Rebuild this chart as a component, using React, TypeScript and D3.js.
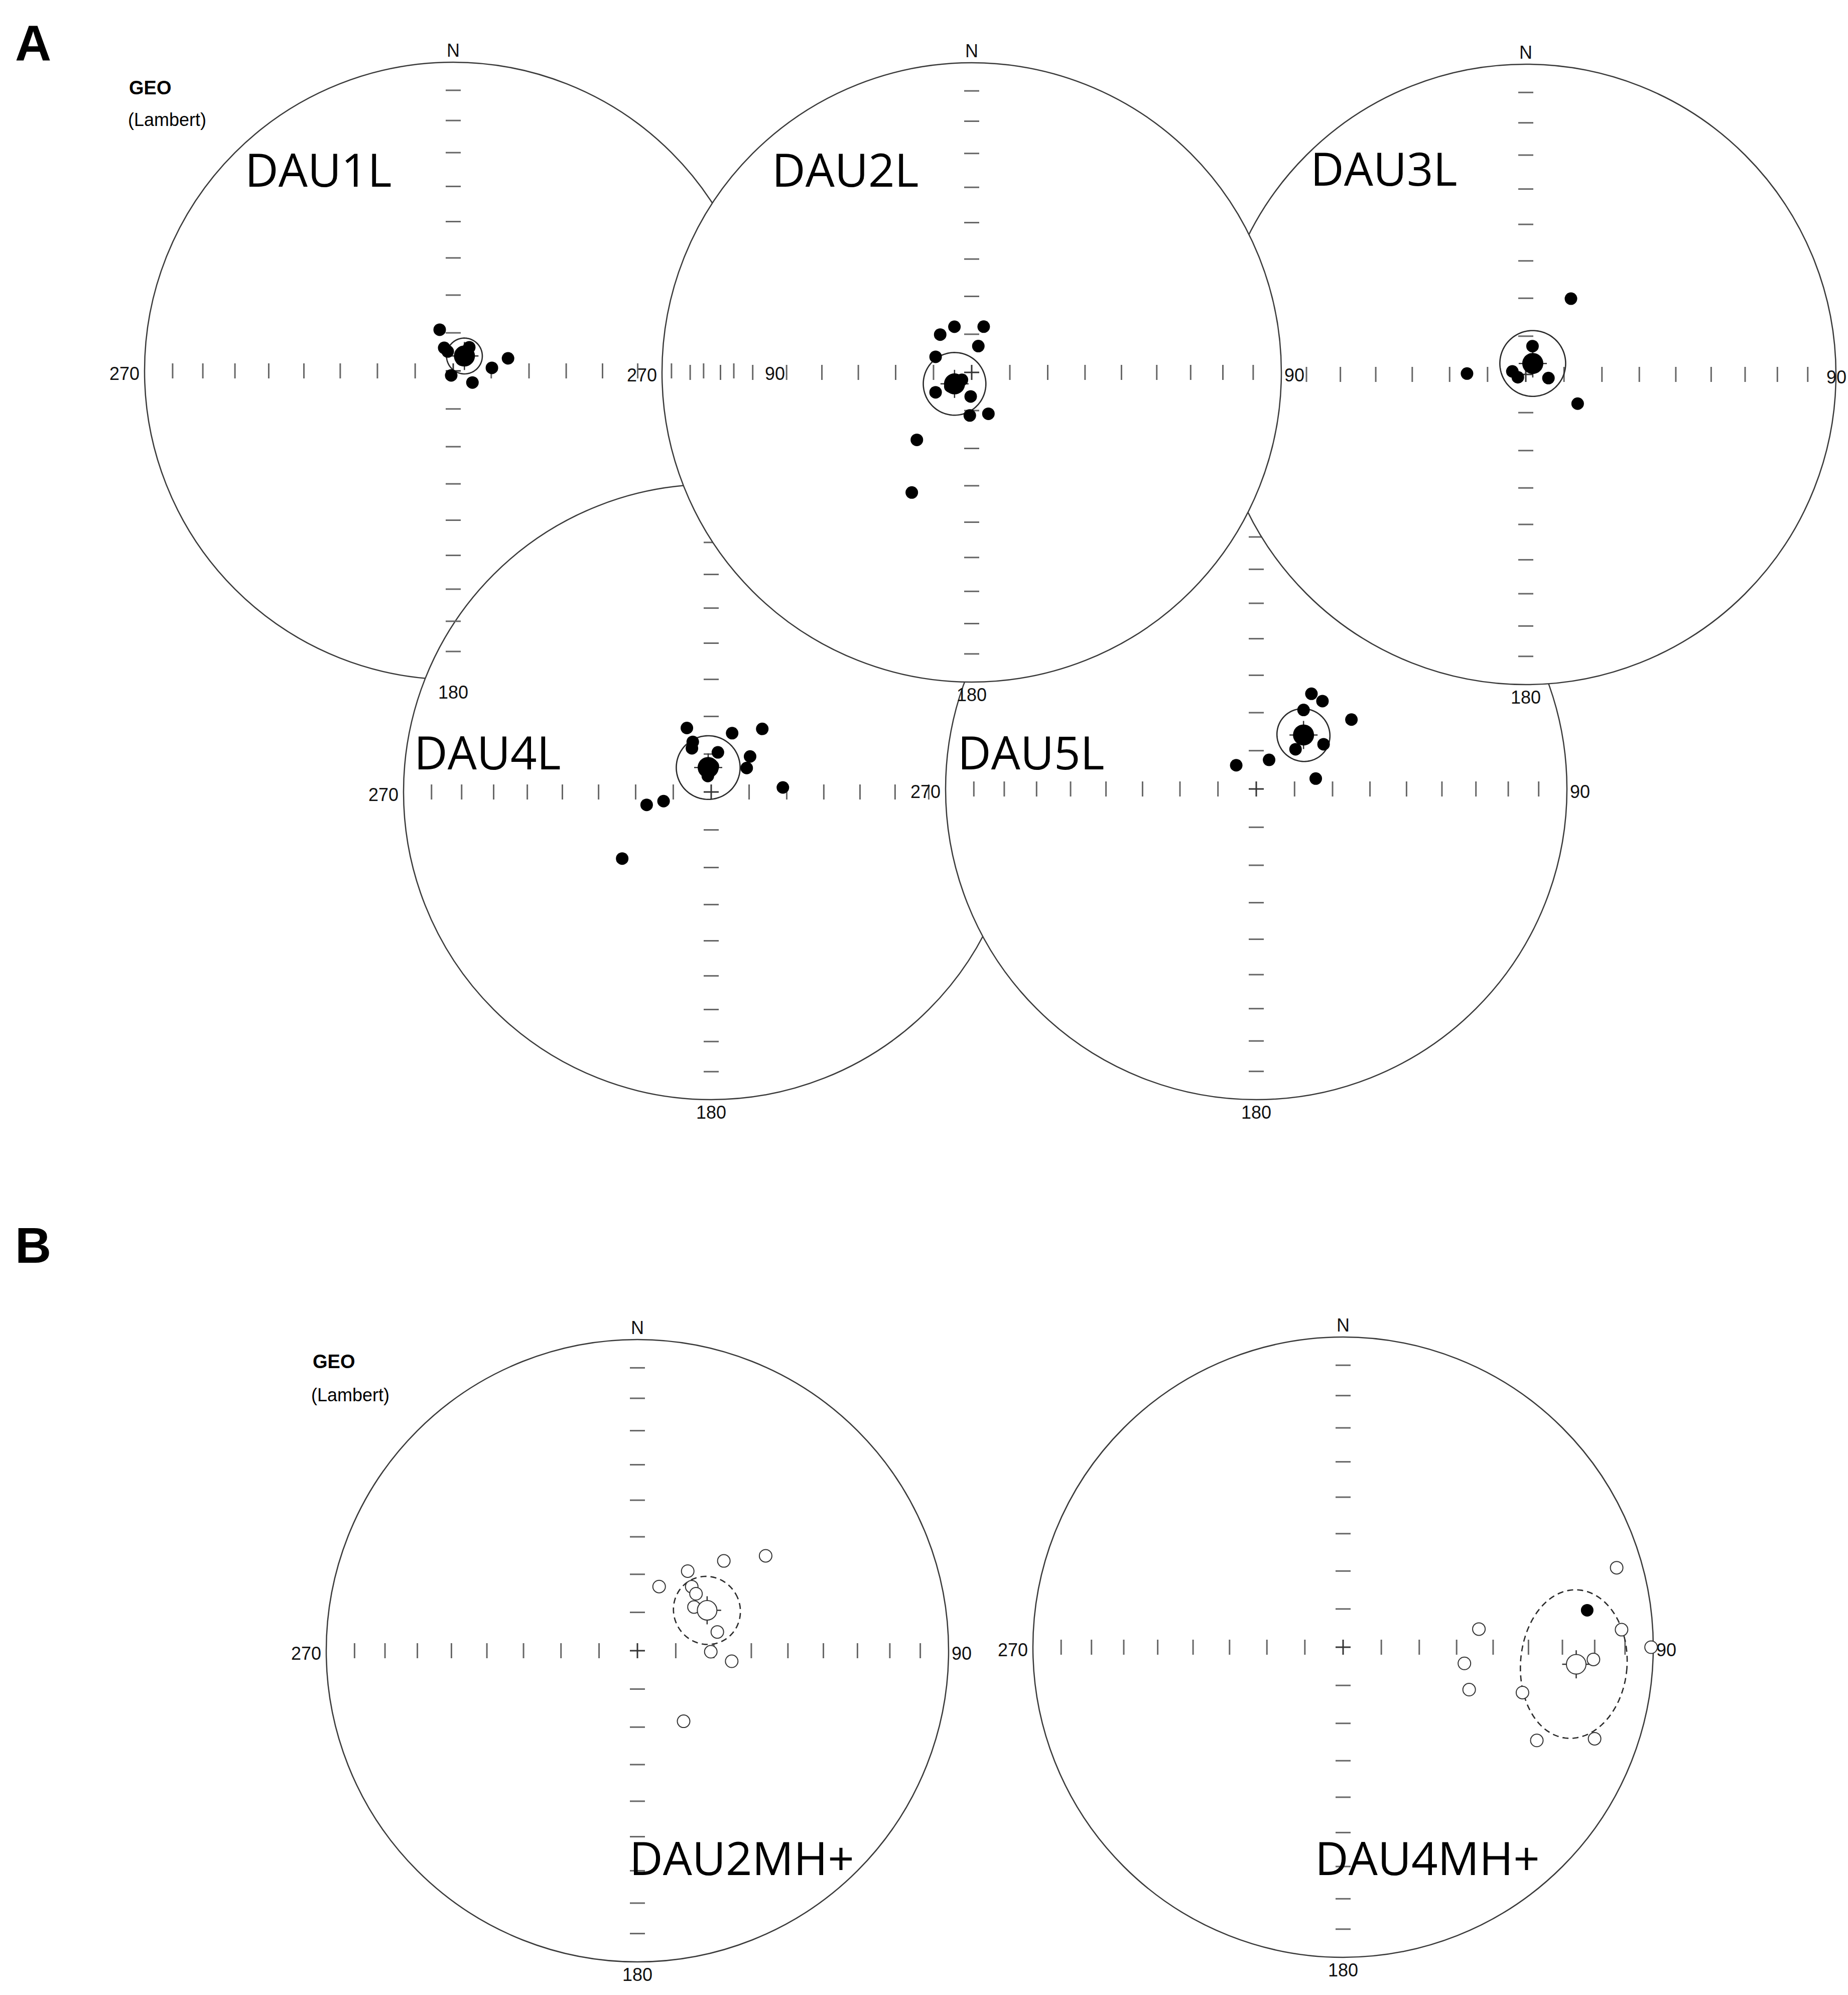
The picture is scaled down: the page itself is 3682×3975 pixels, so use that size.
import * as d3 from "d3";
import React, { useEffect, useRef } from "react";

// [declination, inclination]; negative inclination = upper hemisphere (open symbol)
type Dir = [number, number];
type Mean = { dec: number; inc: number; a95: number };

const INC_TICKS = [10, 20, 30, 40, 50, 60, 70, 80];
const AXIS_DECS = [0, 90, 180, 270];

const DAU1L_DIRS: Dir[] = [
  [341.8, 78.6], [338.6, 83.5], [344.2, 84.7], [204.0, 88.7], [121.2, 84.1],
  [85.5, 79.8], [77.1, 75.2], [34.2, 82.5], [37.7, 86.3],
];
const DAU1L_MEAN: Mean = { dec: 36.9, inc: 85.1, a95: 4.7 };

const DAU2L_DIRS: Dir[] = [
  [320.2, 77.1], [339.3, 77.2], [14.7, 77.6], [14.2, 82.9], [293.4, 79.7],
  [241.1, 79.2], [182.4, 83.7], [182.5, 78.7], [158.0, 78.3], [219.1, 67.1],
  [206.5, 54.3], [232.7, 86.8], [236.7, 83.3],
];
const DAU2L_MEAN: Mean = { dec: 236.2, inc: 84.6, a95: 8.2 };

const DAU3L_DIRS: Dir[] = [
  [30.8, 66.8], [270.8, 74.6], [13.4, 82.4], [282.7, 86.4], [250.4, 87.8],
  [99.2, 84.0], [119.4, 74.4],
];
const DAU3L_MEAN: Mean = { dec: 32.5, inc: 86.6, a95: 8.6 };

const DAU4L_DIRS: Dir[] = [
  [339.2, 71.9], [339.8, 75.9], [336.2, 77.4], [19.6, 73.5], [39.0, 68.5],
  [9.6, 79.4], [47.6, 76.1], [56.0, 78.7], [86.4, 71.0], [259.1, 77.2],
  [258.7, 72.6], [233.2, 60.4], [345.6, 82.9], [3.7, 83.2], [348.1, 85.7],
];
const DAU4L_MEAN: Mean = { dec: 353.0, inc: 83.5, a95: 8.4 };

const DAU5L_DIRS: Dir[] = [
  [30.1, 61.0], [37.0, 61.0], [30.9, 65.8], [53.9, 58.9], [56.4, 68.8],
  [44.7, 75.4], [23.8, 81.7], [319.8, 81.9], [80.1, 74.2],
];
const DAU5L_MEAN: Mean = { dec: 41.2, inc: 71.2, a95: 6.9 };

const DAU2MH_DIRS: Dir[] = [
  [32.3, -65.3], [43.9, -57.1], [53.5, -47.5], [18.7, -72.3], [40.3, -68.0],
  [45.8, -68.6], [52.3, -71.3], [76.8, -68.5], [90.8, -70.8], [96.4, -65.1],
  [146.8, -67.9],
];
const DAU2MH_MEAN: Mean = { dec: 59.9, inc: -68.9, a95: 8.8 };

const DAU4MH_DIRS: Dir[] = [
  [73.8, -9.0], [81.4, 21.5], [82.4, -53.6], [86.4, -11.0], [90.0, -0.8],
  [97.6, -57.6], [92.8, -20.3], [108.6, -54.7], [104.2, -40.1], [115.7, -31.3],
  [110.0, -14.8],
];
const DAU4MH_MEAN: Mean = { dec: 94.2, inc: -25.6, a95: 16.5 };

// layout of each stereonet
type Plot = {
  name: string; dirs: Dir[]; mean: Mean;
  cx: number; cy: number; r: number; tx: number; ty: number;
};

const P1: Plot = { name: "DAU1L", dirs: DAU1L_DIRS, mean: DAU1L_MEAN, cx: 903, cy: 739, r: 615, tx: 488, ty: 372 };
const P2: Plot = { name: "DAU2L", dirs: DAU2L_DIRS, mean: DAU2L_MEAN, cx: 1936, cy: 742, r: 617, tx: 1538, ty: 372 };
const P3: Plot = { name: "DAU3L", dirs: DAU3L_DIRS, mean: DAU3L_MEAN, cx: 3040, cy: 746, r: 618, tx: 2611, ty: 370 };
const P4: Plot = { name: "DAU4L", dirs: DAU4L_DIRS, mean: DAU4L_MEAN, cx: 1417, cy: 1578, r: 613, tx: 825, ty: 1533 };
const P5: Plot = { name: "DAU5L", dirs: DAU5L_DIRS, mean: DAU5L_MEAN, cx: 2503, cy: 1572, r: 619, tx: 1908, ty: 1533 };
const P6: Plot = { name: "DAU2MH+", dirs: DAU2MH_DIRS, mean: DAU2MH_MEAN, cx: 1270, cy: 3289, r: 620, tx: 1254, ty: 3736 };
const P7: Plot = { name: "DAU4MH+", dirs: DAU4MH_DIRS, mean: DAU4MH_MEAN, cx: 2676, cy: 3282, r: 618, tx: 2620, ty: 3736 };

const WIDTH = 3682;
const HEIGHT = 3975;
const FONT = '"Liberation Sans", Arial, sans-serif';
const rad = Math.PI / 180;

type G = d3.Selection<SVGGElement, unknown, null, undefined>;

const projector = (p: Plot) => {
  // Lambert equal-area: radius ~ sqrt(1 - sin|I|)
  const rScale = d3.scaleSqrt().domain([0, 1]).range([0, p.r]);
  return (dec: number, inc: number): [number, number] => {
    const rr = rScale(1 - Math.sin(Math.abs(inc) * rad));
    return [p.cx + rr * Math.sin(dec * rad), p.cy - rr * Math.cos(dec * rad)];
  };
};

// directions on a small circle of radius a95 about the mean
const smallCircle = (m: Mean): Dir[] => {
  const I = Math.abs(m.inc) * rad;
  const D = m.dec * rad;
  const a = m.a95 * rad;
  const mv = [Math.cos(I) * Math.cos(D), Math.cos(I) * Math.sin(D), Math.sin(I)];
  const u = [Math.sin(I) * Math.cos(D), Math.sin(I) * Math.sin(D), -Math.cos(I)];
  const v = [-Math.sin(D), Math.cos(D), 0];
  return d3.range(0, 360, 3).map((t) => {
    const c = Math.cos(t * rad);
    const s = Math.sin(t * rad);
    const q = mv.map((mi, i) => Math.cos(a) * mi + Math.sin(a) * (c * u[i] + s * v[i]));
    return [Math.atan2(q[1], q[0]) / rad, Math.asin(q[2]) / rad] as Dir;
  });
};

const drawDisk = (g: G, p: Plot) => {
  g.append("circle")
    .attr("cx", p.cx).attr("cy", p.cy).attr("r", p.r)
    .attr("fill", "#fff").attr("stroke", "#3a3a3a").attr("stroke-width", 2.5);
};

const drawFrame = (g: G, p: Plot) => {
  const proj = projector(p);
  const ticks = g.append("g").attr("stroke", "#666").attr("stroke-width", 3);
  AXIS_DECS.forEach((dec) => {
    INC_TICKS.forEach((inc) => {
      const [x, y] = proj(dec, inc);
      const vertical = dec === 90 || dec === 270;
      ticks.append("line")
        .attr("x1", vertical ? x : x - 15).attr("x2", vertical ? x : x + 15)
        .attr("y1", vertical ? y - 15 : y).attr("y2", vertical ? y + 15 : y);
    });
  });
  const cross = g.append("g").attr("stroke", "#333").attr("stroke-width", 3);
  cross.append("line").attr("x1", p.cx - 15).attr("x2", p.cx + 15).attr("y1", p.cy).attr("y2", p.cy);
  cross.append("line").attr("x1", p.cx).attr("x2", p.cx).attr("y1", p.cy - 15).attr("y2", p.cy + 15);

  const lab = g.append("g").attr("font-family", FONT).attr("font-size", 36).attr("fill", "#111");
  lab.append("text").attr("x", p.cx).attr("y", p.cy - p.r - 11).attr("text-anchor", "middle").text("N");
  // keep the east label inside the page
  const eastNatural = p.cx + p.r + 6;
  const overflow = eastNatural + 44 > WIDTH;
  lab.append("text")
    .attr("x", overflow ? WIDTH - 3 : eastNatural).attr("y", p.cy + 18)
    .attr("text-anchor", overflow ? "end" : "start").text("90");
  lab.append("text").attr("x", p.cx).attr("y", p.cy + p.r + 38).attr("text-anchor", "middle").text("180");
  lab.append("text").attr("x", p.cx - p.r - 10).attr("y", p.cy + 18).attr("text-anchor", "end").text("270");
};

const drawData = (g: G, p: Plot) => {
  const proj = projector(p);
  const m = p.mean;
  const line = d3.line<Dir>()
    .x((d) => proj(d[0], d[1])[0])
    .y((d) => proj(d[0], d[1])[1])
    .curve(d3.curveLinearClosed);
  g.append("path")
    .attr("d", line(smallCircle(m)))
    .attr("fill", "none").attr("stroke", "#2a2a2a").attr("stroke-width", 2.6)
    .attr("stroke-dasharray", m.inc < 0 ? "12 8" : null);

  const [mx, my] = proj(m.dec, m.inc);
  const mc = g.append("g").attr("stroke", "#333").attr("stroke-width", 2.5);
  mc.append("line").attr("x1", mx - 28).attr("x2", mx + 28).attr("y1", my).attr("y2", my);
  mc.append("line").attr("x1", mx).attr("x2", mx).attr("y1", my - 28).attr("y2", my + 28);

  g.append("g").selectAll("circle").data(p.dirs).join("circle")
    .attr("cx", (d) => proj(d[0], d[1])[0])
    .attr("cy", (d) => proj(d[0], d[1])[1])
    .attr("r", 12.5)
    .attr("fill", (d) => (d[1] >= 0 ? "#000" : "#fff"))
    .attr("stroke", (d) => (d[1] >= 0 ? "none" : "#333"))
    .attr("stroke-width", 2);

  g.append("circle")
    .attr("cx", mx).attr("cy", my).attr("r", m.inc >= 0 ? 21 : 19.5)
    .attr("fill", m.inc >= 0 ? "#000" : "#fff")
    .attr("stroke", m.inc >= 0 ? "none" : "#333").attr("stroke-width", 2);
};

const App: React.FC = () => {
  const svgRef = useRef<SVGSVGElement>(null);

  useEffect(() => {
    const svg = d3.select(svgRef.current);
    svg.selectAll("*").remove();
    const root = svg.append("g") as unknown as G;

    // panel A: stacking order reproduces the overlapping nets
    drawDisk(root.append("g"), P1);
    [P4, P5, P3].forEach((p) => {
      const g = root.append("g");
      drawDisk(g, p);
      drawFrame(g, p);
      drawData(g, p);
    });
    drawDisk(root.append("g"), P2);
    [P2, P1].forEach((p) => {
      const g = root.append("g");
      drawFrame(g, p);
      drawData(g, p);
    });

    // panel B
    [P6, P7].forEach((p) => {
      const g = root.append("g");
      drawDisk(g, p);
      drawFrame(g, p);
      drawData(g, p);
    });

    // titles
    root.append("g").selectAll("text").data([P1, P2, P3, P4, P5, P6, P7]).join("text")
      .attr("x", (d) => d.tx).attr("y", (d) => d.ty)
      .attr("font-family", '"Open Sans", "Noto Sans", sans-serif')
      .attr("font-size", 92).attr("fill", "#000")
      .text((d) => d.name);

    const hdr = root.append("g").attr("font-family", FONT).attr("fill", "#000");
    hdr.append("text").attr("x", 30).attr("y", 121).attr("font-size", 100).attr("font-weight", "bold").text("A");
    hdr.append("text").attr("x", 30).attr("y", 2516).attr("font-size", 100).attr("font-weight", "bold").text("B");
    hdr.append("text").attr("x", 257).attr("y", 188).attr("font-size", 38).attr("font-weight", "bold").text("GEO");
    hdr.append("text").attr("x", 255).attr("y", 251).attr("font-size", 36).text("(Lambert)");
    hdr.append("text").attr("x", 623).attr("y", 2726).attr("font-size", 38).attr("font-weight", "bold").text("GEO");
    hdr.append("text").attr("x", 620).attr("y", 2792).attr("font-size", 36).text("(Lambert)");
  }, []);

  return (
    <svg
      ref={svgRef}
      width={WIDTH}
      height={HEIGHT}
      style={{ position: "absolute", left: 0, top: 0, background: "#fff" }}
    />
  );
};

export default App;
